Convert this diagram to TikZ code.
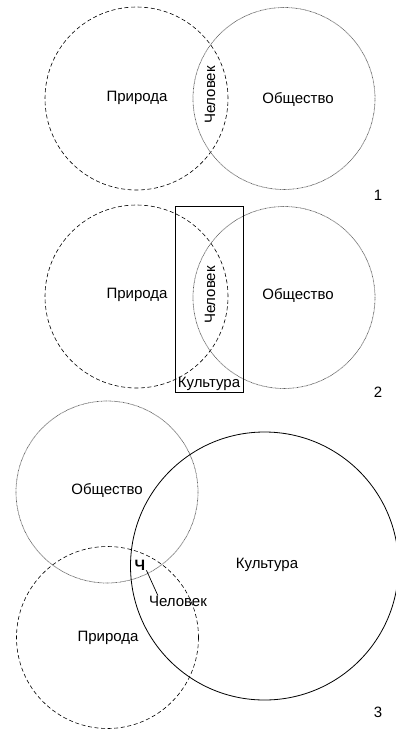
\documentclass[tikz,border=0pt]{standalone}
\usepackage{fontspec}
\setmainfont{Liberation Sans}
\usetikzlibrary{positioning}
\tikzset{
  natCircle/.style={draw=black, circle, inner sep=0pt, outer sep=0pt,
                    line width=0.6pt, dash pattern=on 4pt off 2.6pt},
  socCircle/.style={draw=black!65, circle, inner sep=0pt, outer sep=0pt,
                    line width=0.7pt, dash pattern=on 0.7pt off 0.6pt},
  culCircle/.style={draw=black, circle, inner sep=0pt, outer sep=0pt,
                    line width=0.8pt},
  culBox/.style={draw=black, rectangle, inner sep=0pt, outer sep=0pt,
                 line width=0.8pt},
  vnLabel/.style={font=\fontsize{15}{17}\selectfont, inner sep=1pt},
  vnNum/.style={font=\fontsize{15}{17}\selectfont, inner sep=1pt}
}
\begin{document}
\begin{tikzpicture}[x=1pt,y=-1pt]
  \useasboundingbox (0,0) rectangle (396,729);
  % panel 1
  \node[natCircle, minimum size=183pt] (nat1) at (136.5,98.5) {};
  \node[socCircle, minimum size=182pt] (soc1) at (284,98.5) {};
  \node[vnLabel] (natL1) at (137,98) {Природа};
  \node[vnLabel] (socL1) at (298,99) {Общество};
  \node[vnLabel, rotate=90] (manL1) at (210,95) {Человек};
  \node[vnNum] (num1) at (378,195) {1};

  % panel 2
  \node[natCircle, minimum size=183pt] (nat2) at (136.5,296.5) {};
  \node[socCircle, minimum size=182pt] (soc2) at (284,297.5) {};
  \node[culBox, minimum width=68pt, minimum height=186pt] (cul2) at (209,299) {};
  \node[vnLabel] (natL2) at (137,295) {Природа};
  \node[vnLabel] (socL2) at (298,295) {Общество};
  \node[vnLabel, rotate=90] (manL2) at (210,295) {Человек};
  \node[vnLabel, above=0pt of cul2.south] (culL2) {Культура};
  \node[vnNum] (num2) at (378,392) {2};

  % panel 3
  \node[socCircle, minimum size=182pt] (soc3) at (107,492) {};
  \node[culCircle, minimum size=268pt] (cul3) at (264.5,566) {};
  \node[natCircle, minimum size=182pt] (nat3) at (107.5,637.5) {};
  \node[vnLabel] (socL3) at (107,490) {Общество};
  \node[vnLabel] (culL3) at (267,565) {Культура};
  \node[vnLabel] (natL3) at (108,638) {Природа};
  \node[vnLabel, font=\fontsize{15}{17}\selectfont\bfseries] (ch3) at (140,565) {Ч};
  \node[vnLabel] (manL3) at (178,601) {Человек};
  \draw[line width=0.7pt] ([xshift=0pt,yshift=1pt]ch3.south east) -- ([xshift=10pt,yshift=-1pt]manL3.north west);
  \node[vnNum] (num3) at (378,712) {3};
\end{tikzpicture}
\end{document}
